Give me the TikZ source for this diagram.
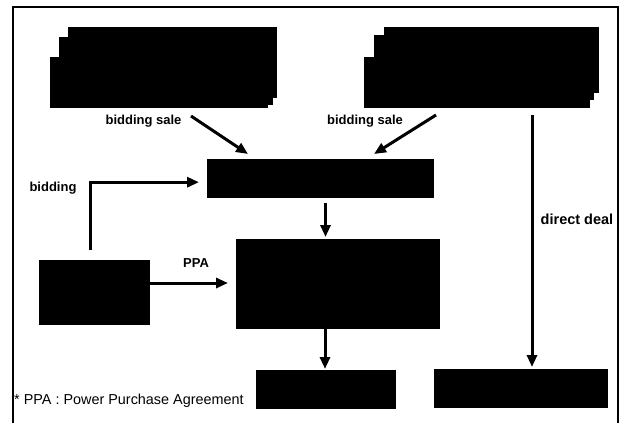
\documentclass[tikz,border=0pt]{standalone}
\usepackage{fontspec}
\setmainfont{Liberation Sans}
\usetikzlibrary{arrows.meta,calc}
\begin{document}
\begin{tikzpicture}[x=1bp,y=-1bp,
  blk/.style={fill=black,draw=none,inner sep=0pt,anchor=north west},
  arr/.style={line width=3bp,-{Triangle[length=12bp,width=10bp]}},
  lbl/.style={font=\bfseries\fontsize{13bp}{15bp}\selectfont,inner sep=0pt},
  note/.style={font=\fontsize{14.4bp}{16bp}\selectfont,inner sep=0pt}]
\useasboundingbox (0,0) rectangle (622,423);
\fill[white] (0,0) rectangle (622,423);
% border
\draw[line width=1.5bp] (13,423) -- (13,7) -- (618,7) -- (618,423);
% top-left stack
\node[blk,minimum width=209bp,minimum height=71bp] (tlA) at (68,27) {};
\node[blk,minimum width=214bp,minimum height=68bp] (tlB) at (59,37) {};
\node[blk,minimum width=218bp,minimum height=51bp] (tlC) at (50,57) {};
% top-right stack
\node[blk,minimum width=215bp,minimum height=66bp] (trA) at (384,27) {};
\node[blk,minimum width=220bp,minimum height=65bp] (trB) at (374,35) {};
\node[blk,minimum width=226bp,minimum height=51bp] (trC) at (364,57) {};
% middle boxes
\node[blk,minimum width=227bp,minimum height=39bp] (mkt) at (207,159) {};
\node[blk,minimum width=204bp,minimum height=90bp] (ctr) at (236,239) {};
\node[blk,minimum width=111bp,minimum height=65bp] (gen) at (39,260) {};
\node[blk,minimum width=140bp,minimum height=39bp] (bot) at (256,370) {};
\node[blk,minimum width=174bp,minimum height=39bp] (brt) at (434,369) {};
% arrows
\coordinate (s1) at (191,116);
\coordinate (e1) at (248,154);
\draw[arr] (s1) -- (e1);
\coordinate (s2) at (436,115);
\coordinate (e2) at (374,154);
\draw[arr] (s2) -- (e2);
\node[lbl] (l1) at (143.5,121) {bidding sale};
\node[lbl] (l2) at (365,121) {bidding sale};
% bidding
\coordinate (b0) at (90,250);
\draw[arr] (b0) |- ($(mkt.west)+(-8,3.5)$);
\node[lbl] (l3) at (53,188) {bidding};
% PPA
\draw[arr] (gen.east |- 0,283) -- (228,283);
\node[lbl] (l4) at (196,263) {PPA};
% vertical arrows
\draw[arr] (325.5,203) -- (325.5,237);
\draw[arr] (325,329) -- (325,369);
% direct deal
\coordinate (d0) at (532,115);
\draw[arr] (d0) -- (532,367);
\node[lbl,font=\bfseries\fontsize{14.5bp}{16bp}\selectfont] (l5) at (577,219) {direct deal};
% footnote
\node[note,anchor=west] (fn) at (14,401) {* PPA : Power Purchase Agreement};
\end{tikzpicture}
\end{document}
